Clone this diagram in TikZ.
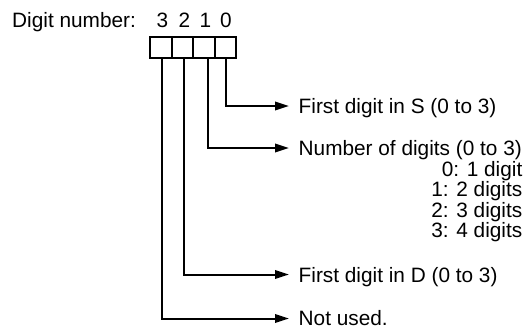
\documentclass[tikz,border=0pt]{standalone}
\usepackage{fontspec}
\setmainfont{Liberation Sans}
\usetikzlibrary{arrows.meta}
\begin{document}
\begin{tikzpicture}[x=1pt,y=-1pt,
  every node/.style={font=\fontsize{20.8}{24}\selectfont, inner sep=0pt},
  cell/.style={draw, line width=2pt, minimum width=21.5pt, minimum height=21.5pt},
  conn/.style={line width=2pt, -{Triangle[length=14pt,width=8.5pt]}},
  label/.style={anchor=base west},
  sub/.style={anchor=base east}]
\useasboundingbox (0,0) rectangle (524,330);
% title and digit numbers
\node[anchor=base west] (title) at (12,27.5) {Digit number:};
\node[cell] (b3) at (160.75,47.5) {};
\node[cell] (b2) at (182.25,47.5) {};
\node[cell] (b1) at (203.75,47.5) {};
\node[cell] (b0) at (225.25,47.5) {};
\node[anchor=base] (d3) at (162.5,27.5) {3};
\node[anchor=base] (d2) at (184.5,27.5) {2};
\node[anchor=base] (d1) at (205.5,27.5) {1};
\node[anchor=base] (d0) at (226,27.5) {0};
% arrow tips
\coordinate (a0) at (289,106);
\coordinate (a1) at (289,148);
\coordinate (a2) at (289,274.5);
\coordinate (a3) at (289,318.5);
% connectors
\draw[conn] ([xshift=0.75pt]b0.south) |- (a0);
\draw[conn] ([xshift=4pt]b1.south) |- (a1);
\draw[conn] ([xshift=2pt]b2.south) |- (a2);
\draw[conn] ([xshift=1pt]b3.south) |- (a3);
% labels
\node[label] (t0) at (298.5,113) {First digit in S (0 to 3)};
\node[label] (t1) at (298.5,155) {Number of digits (0 to 3)};
\node[sub] (n0) at (522.5,176) {0: 1 digit};
\node[sub] (n1) at (522.5,196.5) {1: 2 digits};
\node[sub] (n2) at (522.5,217) {2: 3 digits};
\node[sub] (n3) at (522.5,237.5) {3: 4 digits};
\node[label] (t2) at (298.5,282) {First digit in D (0 to 3)};
\node[label] (t3) at (298.5,325.5) {Not used.};
\end{tikzpicture}
\end{document}
